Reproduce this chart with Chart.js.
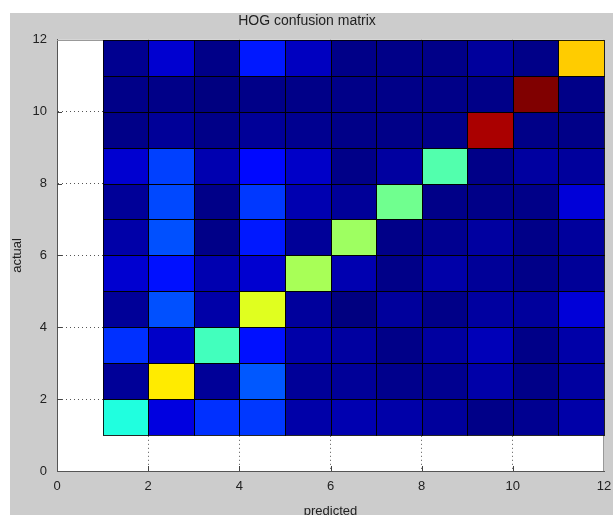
<!DOCTYPE html>
<html>
<head>
<meta charset="utf-8">
<title>HOG confusion matrix</title>
<script src="https://cdn.jsdelivr.net/npm/chart.js@4.4.0/dist/chart.umd.min.js"></script>
<style>
  html, body { margin: 0; padding: 0; background: #fff; overflow: hidden; }
  #fig { position: absolute; left: 10px; top: 13px; width: 603px; height: 510px; background: #ccc; }
</style>
</head>
<body>
<div id="fig"><canvas id="cm"></canvas></div>
<script>
// class indices (cell lower-left corners)
const predicted = [1, 2, 3, 4, 5, 6, 7, 8, 9, 10, 11];
const actual = [1, 2, 3, 4, 5, 6, 7, 8, 9, 10, 11];
const tickValues = [0, 2, 4, 6, 8, 10, 12];

// colour values per actual class (0..100, mapped through jet)
const actual1 = [40.6, 9.5, 17.2, 18.0, 4.0, 4.8, 4.0, 2.8, 0.8, 1.6, 4.0];
const actual2 = [2.4, 64.5, 2.4, 21.1, 2.4, 2.4, 1.2, 1.6, 4.0, 0.8, 3.2];
const actual3 = [17.2, 7.1, 44.0, 14.1, 4.0, 3.2, 0.8, 3.2, 5.5, 0.8, 4.0];
const actual4 = [2.4, 20.3, 4.0, 59.5, 2.8, 0.0, 2.8, 0.8, 3.2, 2.8, 8.7];
const actual5 = [7.9, 14.1, 4.8, 7.9, 54.0, 4.8, 0.8, 4.0, 2.4, 0.8, 2.4];
const actual6 = [4.0, 20.3, 0.8, 14.9, 2.4, 53.0, 0.8, 1.6, 3.2, 0.8, 2.8];
const actual7 = [2.4, 19.6, 0.8, 18.0, 4.8, 2.4, 48.5, 0.8, 0.8, 0.8, 8.7];
const actual8 = [7.9, 18.8, 4.8, 13.3, 7.1, 0.8, 3.2, 45.5, 0.8, 3.2, 2.8];
const actual9 = [0.8, 2.4, 0.8, 2.4, 1.6, 0.8, 0.8, 0.8, 95.8, 0.8, 0.8];
const actual10 = [0.8, 0.8, 0.0, 0.8, 0.8, 0.8, 0.8, 0.8, 0.8, 100, 0.8];
const actual11 = [1.6, 7.9, 0.8, 14.9, 6.3, 0.8, 0.8, 0.8, 2.8, 0.8, 67.5];

const rows = [actual1, actual2, actual3, actual4, actual5, actual6, actual7, actual8, actual9, actual10, actual11];
const cmin = 0, cmax = 100;

function jet(t) {
  const c = v => Math.round(255 * Math.max(0, Math.min(1, v)));
  const r = c(1.5 - Math.abs(4 * t - 3));
  const g = c(1.5 - Math.abs(4 * t - 2));
  const b = c(1.5 - Math.abs(4 * t - 1));
  return `rgb(${r},${g},${b})`;
}

const cells = [];
actual.forEach((a, i) => {
  predicted.forEach((p, j) => cells.push({ x: p, y: a, v: rows[i][j] }));
});

const cellPlugin = {
  id: 'cells',
  beforeDraw(chart) {
    const { ctx, chartArea: a } = chart;
    ctx.save();
    ctx.fillStyle = '#fff';
    ctx.fillRect(a.left, a.top, a.right - a.left, a.bottom - a.top);
    ctx.restore();
  },
  beforeDatasetsDraw(chart) {
    const { ctx, chartArea: a, scales: { x, y } } = chart;
    ctx.save();
    // inner tick marks, matlab style
    ctx.strokeStyle = '#444';
    ctx.lineWidth = 1;
    ctx.beginPath();
    tickValues.slice(1, -1).forEach(v => {
      const px = Math.round(x.getPixelForValue(v)) + 0.5;
      ctx.moveTo(px, a.bottom);
      ctx.lineTo(px, a.bottom - 5);
      const py = Math.round(y.getPixelForValue(v)) + 0.5;
      ctx.moveTo(a.left, py);
      ctx.lineTo(a.left + 5, py);
    });
    ctx.stroke();

    // top and right frame
    ctx.strokeStyle = '#999';
    ctx.beginPath();
    ctx.moveTo(a.left, Math.round(a.top) + 0.5);
    ctx.lineTo(a.right, Math.round(a.top) + 0.5);
    ctx.moveTo(Math.round(a.right) - 0.5, a.top);
    ctx.lineTo(Math.round(a.right) - 0.5, a.bottom);
    ctx.stroke();

    const pts = chart.data.datasets[0].data;
    pts.forEach(p => {
      const x0 = Math.round(x.getPixelForValue(p.x));
      const x1 = Math.round(x.getPixelForValue(p.x + 1));
      const y0 = Math.round(y.getPixelForValue(p.y + 1));
      const y1 = Math.round(y.getPixelForValue(p.y));
      ctx.fillStyle = jet((p.v - cmin) / (cmax - cmin));
      ctx.fillRect(x0, y0, x1 - x0, y1 - y0);
    });
    ctx.strokeStyle = 'rgba(0,0,0,0.85)';
    pts.forEach(p => {
      const x0 = Math.round(x.getPixelForValue(p.x));
      const x1 = Math.round(x.getPixelForValue(p.x + 1));
      const y0 = Math.round(y.getPixelForValue(p.y + 1));
      const y1 = Math.round(y.getPixelForValue(p.y));
      ctx.strokeRect(x0 + 0.5, y0 + 0.5, x1 - x0, y1 - y0);
    });
    ctx.restore();
  }
};

const gridColor = c => (c.tick && (c.tick.value === 0 || c.tick.value === 12)) ? 'rgba(0,0,0,0)' : '#555';

Chart.defaults.font.family = '"Liberation Sans", Arial, Helvetica, sans-serif';
Chart.defaults.font.size = 13;
Chart.defaults.color = '#222';

new Chart(document.getElementById('cm'), {
  type: 'scatter',
  data: {
    datasets: [{ data: cells, pointRadius: 0, pointHoverRadius: 0 }]
  },
  options: {
    responsive: true,
    maintainAspectRatio: false,
    animation: false,
    events: [],
    layout: { padding: { left: 0, right: 9, top: 0, bottom: 0 } },
    plugins: {
      legend: { display: false },
      tooltip: { enabled: false },
      title: {
        display: true,
        text: 'HOG confusion matrix',
        color: '#222',
        font: { size: 14, weight: 'normal' },
        padding: { top: 0, bottom: 10 }
      }
    },
    scales: {
      x: {
        type: 'linear', min: 0, max: 12,
        ticks: { stepSize: 2, padding: 8 },
        grid: { drawTicks: false, color: gridColor, lineWidth: 1 },
        border: { display: true, color: '#555', width: 1, dash: [1, 3] },
        title: { display: true, text: 'predicted', padding: { top: 0, bottom: 4 } },
        afterFit: s => { s.height = 52; s.paddingLeft = 0; s.paddingRight = 0; }
      },
      y: {
        type: 'linear', min: 0, max: 12,
        ticks: { stepSize: 2, padding: 10 },
        grid: { drawTicks: false, color: gridColor, lineWidth: 1 },
        border: { display: true, color: '#555', width: 1, dash: [1, 3] },
        title: { display: true, text: 'actual', padding: { top: 0, bottom: 0 } },
        afterFit: s => { s.width = 47; }
      }
    }
  },
  plugins: [cellPlugin]
});
</script>
</body>
</html>
